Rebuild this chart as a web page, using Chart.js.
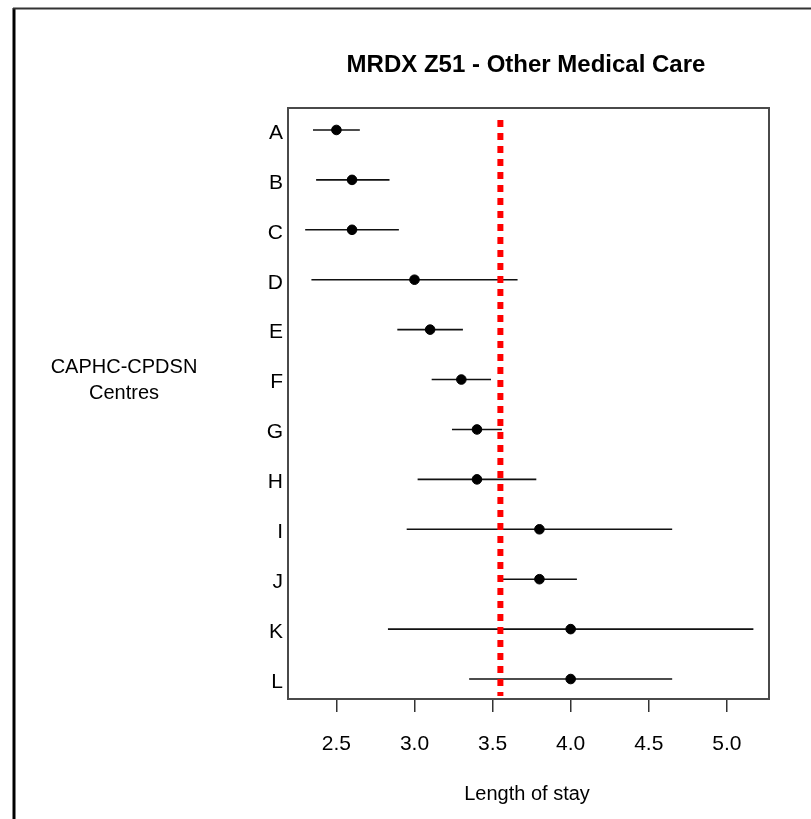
<!DOCTYPE html>
<html>
<head>
<meta charset="utf-8">
<script src="https://cdn.jsdelivr.net/npm/chart.js@4.4.1/dist/chart.umd.min.js"></script>
<style>
  html, body { margin: 0; padding: 0; background: #fff; }
  #wrap { width: 811px; height: 819px; position: relative; }
</style>
</head>
<body>
<div id="wrap"><canvas id="c"></canvas></div>
<script>
// ---- data ----
const centres   = ['A','B','C','D','E','F','G','H','I','J','K','L'];
const meanStay  = [2.50, 2.60, 2.60, 3.00, 3.10, 3.30, 3.40, 3.40, 3.80, 3.80, 4.00, 4.00];
const lowerCI   = [2.35, 2.37, 2.30, 2.34, 2.89, 3.11, 3.24, 3.02, 2.95, 3.56, 2.83, 3.35];
const upperCI   = [2.65, 2.84, 2.90, 3.66, 3.31, 3.49, 3.56, 3.78, 4.65, 4.04, 5.17, 4.65];
const overallMean = 3.55;
const xTickValues = [2.5, 3.0, 3.5, 4.0, 4.5, 5.0];
const titleText  = 'MRDX Z51 - Other Medical Care';
const xTitleText = 'Length of stay';
const yTitleLines = ['CAPHC-CPDSN', 'Centres'];

const FONT = '"Liberation Sans", Arial, sans-serif';

// error bar datasets
const barSets = centres.map((c, i) => ({
  type: 'line',
  label: 'ci ' + c,
  data: [{x: lowerCI[i], y: i}, {x: upperCI[i], y: i}],
  borderColor: '#111',
  borderWidth: 1.6,
  pointRadius: 0,
  showLine: true,
  fill: false,
  order: 3
}));

const pointSet = {
  type: 'scatter',
  label: 'mean',
  data: centres.map((c, i) => ({x: meanStay[i], y: i})),
  backgroundColor: '#000',
  borderColor: '#000',
  pointRadius: 4.8,
  order: 2
};

const refSet = {
  type: 'line',
  label: 'overall',
  data: [{x: overallMean, y: -0.2}, {x: overallMean, y: 11.34}],
  borderColor: '#ff0000',
  borderWidth: 6,
  borderDash: [7, 6],
  borderCapStyle: 'butt',
  pointRadius: 0,
  showLine: true,
  fill: false,
  order: 1
};

const decor = {
  id: 'decor',
  beforeDraw(chart) {
    const ctx = chart.ctx;
    ctx.save();
    ctx.fillStyle = '#fff';
    ctx.fillRect(0, 0, chart.width, chart.height);
    ctx.restore();
  },
  afterDraw(chart) {
    const ctx = chart.ctx;
    const a = chart.chartArea;
    ctx.save();
    // plot box
    ctx.strokeStyle = '#4a4a4a';
    ctx.lineWidth = 2;
    ctx.strokeRect(a.left, a.top, a.right - a.left, a.bottom - a.top);
    // outer frame
    ctx.strokeStyle = '#000';
    ctx.lineWidth = 3;
    ctx.beginPath(); ctx.moveTo(14, 8); ctx.lineTo(14, 819); ctx.stroke();
    ctx.strokeStyle = '#333';
    ctx.lineWidth = 2;
    ctx.beginPath(); ctx.moveTo(13, 8.5); ctx.lineTo(811, 8.5); ctx.stroke();
    // title
    ctx.fillStyle = '#000';
    ctx.textAlign = 'center';
    ctx.textBaseline = 'alphabetic';
    ctx.font = 'bold 24px ' + FONT;
    ctx.fillText(titleText, 526, 72);
    // x title
    ctx.font = '20px ' + FONT;
    ctx.fillText(xTitleText, 527, 800);
    // y title
    ctx.fillText(yTitleLines[0], 124, 373);
    ctx.fillText(yTitleLines[1], 124, 399);
    ctx.restore();
  }
};

new Chart(document.getElementById('c'), {
  type: 'scatter',
  data: { datasets: [refSet, pointSet, ...barSets] },
  options: {
    responsive: true,
    maintainAspectRatio: false,
    animation: false,
    layout: { padding: { top: 108, right: 42, left: 0, bottom: 0 } },
    plugins: { legend: { display: false }, tooltip: { enabled: false }, title: { display: false } },
    scales: {
      x: {
        type: 'linear',
        min: 2.19,
        max: 5.27,
        afterBuildTicks: s => { s.ticks = xTickValues.map(v => ({value: v})); },
        afterFit: s => { s.height = 120; },
        grid: { drawOnChartArea: false, drawTicks: true, tickLength: 13, color: '#333', lineWidth: 1.5 },
        border: { display: false },
        ticks: {
          color: '#000',
          font: { family: FONT, size: 21 },
          padding: 20,
          maxRotation: 0,
          callback: v => Number(v).toFixed(1)
        }
      },
      y: {
        type: 'linear',
        min: -0.44,
        max: 11.4,
        reverse: true,
        afterBuildTicks: s => { s.ticks = centres.map((c, i) => ({value: i})); },
        afterFit: s => { s.width = 288; },
        grid: { drawOnChartArea: false, drawTicks: false },
        border: { display: false },
        ticks: {
          color: '#000',
          font: { family: FONT, size: 21 },
          padding: 5,
          labelOffset: 3,
          callback: v => centres[v] || ''
        }
      }
    }
  },
  plugins: [decor]
});
</script>
</body>
</html>
